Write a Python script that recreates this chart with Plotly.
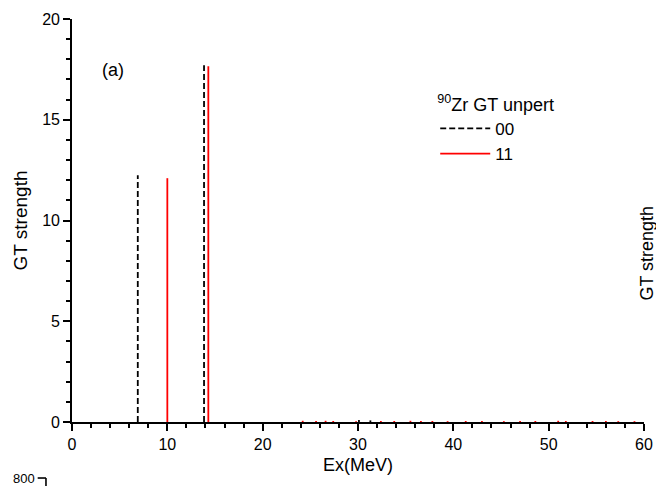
import plotly.graph_objects as go

# data: stick spectra (energy MeV, strength)
e00 = [6.9, 13.85, 30.1, 31.3]
s00 = [12.25, 17.7, 0.10, 0.08]
e11 = [10.0, 14.3, 24.2, 25.6, 26.6, 27.4, 29.8, 32.4, 33.8, 35.5, 36.6, 37.8, 39.4,
       41.3, 43.0, 45.3, 47.0, 48.6, 51.0, 51.8, 54.6, 56.0, 57.3, 59.0]
s11 = [12.1, 17.65, 0.06, 0.05, 0.06, 0.05, 0.04, 0.05, 0.05, 0.06, 0.05, 0.05, 0.04,
       0.05, 0.05, 0.04, 0.05, 0.05, 0.06, 0.05, 0.05, 0.05, 0.04, 0.04]
xticks = [0, 10, 20, 30, 40, 50, 60]
yticks = [0, 5, 10, 15, 20]


def sticks(e, s):
    xs, ys = [], []
    for a, b in zip(e, s):
        xs += [a, a, None]
        ys += [0, b, None]
    return xs, ys


fig = go.Figure()
x0, y0 = sticks(e00, s00)
x1, y1 = sticks(e11, s11)
fig.add_trace(go.Scatter(x=x0, y=y0, mode="lines", name="00",
                         line=dict(color="black", width=1.8, dash="6px,3px")))
fig.add_trace(go.Scatter(x=x1, y=y1, mode="lines", name="11",
                         line=dict(color="red", width=1.8)))

font = "Liberation Sans, Arial, sans-serif"
axis_common = dict(ticks="outside", ticklen=7, tickwidth=1.6, tickcolor="black",
                   showline=True, linecolor="black", linewidth=1.6,
                   showgrid=False, zeroline=False, mirror=False, automargin=False,
                   tickfont=dict(size=16))
fig.update_layout(
    width=656, height=486,
    margin=dict(l=72, r=12, t=19, b=64),
    plot_bgcolor="white", paper_bgcolor="white",
    font=dict(family=font, size=16, color="black"),
    showlegend=True,
    legend=dict(x=0.635, y=0.83, xanchor="left", yanchor="top",
                bgcolor="rgba(0,0,0,0)", itemwidth=50,
                title=dict(text="<sup>90</sup>Zr GT unpert", font=dict(size=18)),
                font=dict(size=17), tracegroupgap=0),
    xaxis=dict(range=[0, 60], tickvals=xticks,
               minor=dict(dtick=2, ticks="outside", ticklen=4, tickwidth=1.6,
                          tickcolor="black", showgrid=False),
               title=dict(text="Ex(MeV)", font=dict(size=18), standoff=6),
               **axis_common),
    yaxis=dict(range=[0, 20], tickvals=yticks,
               minor=dict(dtick=1, ticks="outside", ticklen=4, tickwidth=1.6,
                          tickcolor="black", showgrid=False),
               title=dict(text="GT strength", font=dict(size=19), standoff=10),
               **axis_common),
)

fig.add_annotation(x=4.3, y=17.45, xref="x", yref="y", text="(a)", showarrow=False,
                   font=dict(size=18), xanchor="center", yanchor="middle")
fig.add_annotation(x=1.005, y=0.42, xref="paper", yref="paper", text="GT strength",
                   showarrow=False, textangle=-90, font=dict(size=18),
                   xanchor="center", yanchor="middle")
fig.add_annotation(x=-0.062, y=-0.139, xref="paper", yref="paper", text="800",
                   showarrow=False, font=dict(size=13), xanchor="right", yanchor="middle")
fig.add_shape(type="line", xref="paper", yref="paper", x0=-0.06, x1=-0.0455,
              y0=-0.139, y1=-0.139, line=dict(color="black", width=1.6))
fig.add_shape(type="line", xref="paper", yref="paper", x0=-0.0455, x1=-0.0455,
              y0=-0.139, y1=-0.17, line=dict(color="black", width=1.6))

fig.write_html("out.html")
